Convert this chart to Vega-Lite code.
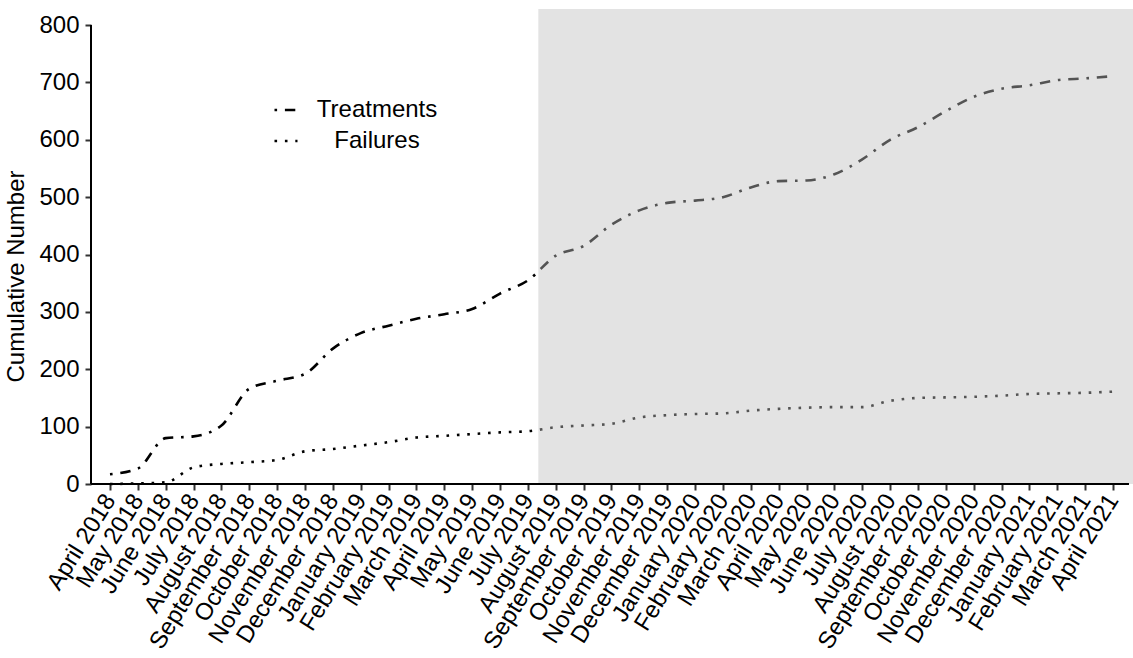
{
  "$schema": "https://vega.github.io/schema/vega-lite/v6.json",
  "width": 1042,
  "height": 475,
  "autosize": {"type": "none"},
  "padding": {"left": 91, "top": 9, "right": 0, "bottom": 174},
  "background": "white",
  "config": {
    "view": {"stroke": null},
    "font": "Liberation Sans",
    "axis": {"labelFont": "Liberation Sans", "titleFont": "Liberation Sans", "labelColor": "black", "titleColor": "black", "labelFlush": false, "labelBound": false, "labelOverlap": false, "domain": false, "grid": false, "tickSize": 6, "tickWidth": 2, "tickColor": "#333333", "labelFontSize": 24, "labelPadding": 6},
    "legend": {"labelFont": "Liberation Sans"}
  },
  "layer": [
    {
      "data": {
        "values": [
          {"idx": 0, "month": "April 2018", "Treatments": 17, "Failures": 0},
          {"idx": 1, "month": "May 2018", "Treatments": 27, "Failures": 1},
          {"idx": 2, "month": "June 2018", "Treatments": 80, "Failures": 3},
          {"idx": 3, "month": "July 2018", "Treatments": 83, "Failures": 29},
          {"idx": 4, "month": "August 2018", "Treatments": 102, "Failures": 35},
          {"idx": 5, "month": "September 2018", "Treatments": 166, "Failures": 38},
          {"idx": 6, "month": "October 2018", "Treatments": 180, "Failures": 42},
          {"idx": 7, "month": "November 2018", "Treatments": 192, "Failures": 57},
          {"idx": 8, "month": "December 2018", "Treatments": 236, "Failures": 61},
          {"idx": 9, "month": "January 2019", "Treatments": 263, "Failures": 67},
          {"idx": 10, "month": "February 2019", "Treatments": 276, "Failures": 73},
          {"idx": 11, "month": "March 2019", "Treatments": 288, "Failures": 81},
          {"idx": 12, "month": "April 2019", "Treatments": 296, "Failures": 84},
          {"idx": 13, "month": "May 2019", "Treatments": 305, "Failures": 87},
          {"idx": 14, "month": "June 2019", "Treatments": 332, "Failures": 90},
          {"idx": 15, "month": "July 2019", "Treatments": 355, "Failures": 92},
          {"idx": 16, "month": "August 2019", "Treatments": 398, "Failures": 99},
          {"idx": 17, "month": "September 2019", "Treatments": 415, "Failures": 102},
          {"idx": 18, "month": "October 2019", "Treatments": 452, "Failures": 105},
          {"idx": 19, "month": "November 2019", "Treatments": 477, "Failures": 116},
          {"idx": 20, "month": "December 2019", "Treatments": 490, "Failures": 120},
          {"idx": 21, "month": "January 2020", "Treatments": 494, "Failures": 122},
          {"idx": 22, "month": "February 2020", "Treatments": 500, "Failures": 123},
          {"idx": 23, "month": "March 2020", "Treatments": 517, "Failures": 128},
          {"idx": 24, "month": "April 2020", "Treatments": 528, "Failures": 131},
          {"idx": 25, "month": "May 2020", "Treatments": 529, "Failures": 133},
          {"idx": 26, "month": "June 2020", "Treatments": 540, "Failures": 134},
          {"idx": 27, "month": "July 2020", "Treatments": 566, "Failures": 134},
          {"idx": 28, "month": "August 2020", "Treatments": 600, "Failures": 145},
          {"idx": 29, "month": "September 2020", "Treatments": 622, "Failures": 150},
          {"idx": 30, "month": "October 2020", "Treatments": 650, "Failures": 151},
          {"idx": 31, "month": "November 2020", "Treatments": 675, "Failures": 152},
          {"idx": 32, "month": "December 2020", "Treatments": 689, "Failures": 154},
          {"idx": 33, "month": "January 2021", "Treatments": 695, "Failures": 157},
          {"idx": 34, "month": "February 2021", "Treatments": 704, "Failures": 158},
          {"idx": 35, "month": "March 2021", "Treatments": 707, "Failures": 159},
          {"idx": 36, "month": "April 2021", "Treatments": 711, "Failures": 161}
        ]
      },
      "transform": [{"fold": ["Treatments", "Failures"], "as": ["series", "value"]}],
      "mark": {"type": "line", "interpolate": "monotone", "strokeWidth": 2.6, "color": "black", "strokeCap": "butt"},
      "encoding": {
        "x": {
          "field": "idx",
          "type": "quantitative",
          "scale": {"domain": [-0.682, 36.718], "nice": false, "zero": false},
          "axis": {
            "title": null,
            "values": [0,1,2,3,4,5,6,7,8,9,10,11,12,13,14,15,16,17,18,19,20,21,22,23,24,25,26,27,28,29,30,31,32,33,34,35,36],
            "tickCount": 40,
            "labelExpr": "['April 2018','May 2018','June 2018','July 2018','August 2018','September 2018','October 2018','November 2018','December 2018','January 2019','February 2019','March 2019','April 2019','May 2019','June 2019','July 2019','August 2019','September 2019','October 2019','November 2019','December 2019','January 2020','February 2020','March 2020','April 2020','May 2020','June 2020','July 2020','August 2020','September 2020','October 2020','November 2020','December 2020','January 2021','February 2021','March 2021','April 2021'][datum.value]",
            "labelAngle": -58,
            "labelAlign": "right",
            "labelBaseline": "middle",
            "labelOverlap": false
          }
        },
        "y": {
          "field": "value",
          "type": "quantitative",
          "scale": {"domain": [0, 828], "nice": false},
          "axis": {
            "title": "Cumulative Number",
            "titleFontSize": 24,
            "titleFontWeight": "normal",
            "titlePadding": 10,
            "titleY": 267,
            "values": [0, 100, 200, 300, 400, 500, 600, 700, 800]
          }
        },
        "strokeDash": {
          "field": "series",
          "type": "nominal",
          "scale": {"domain": ["Treatments", "Failures"], "range": [[2.6, 7.8, 10.4, 7.8], [2.6, 7.8]]},
          "legend": {
            "title": null,
            "orient": "none",
            "legendX": 182,
            "legendY": 88,
            "padding": 0,
            "symbolType": "stroke",
            "symbolSize": 529,
            "symbolStrokeWidth": 2.6,
            "symbolStrokeColor": "black",
            "labelFontSize": 24,
            "labelColor": "black",
            "labelAlign": "center",
            "labelOffset": 78,
            "rowPadding": 6
          }
        }
      }
    },
    {
      "data": {"values": [{}]},
      "mark": {"type": "rect", "color": "#c0c0c0", "opacity": 0.44},
      "encoding": {
        "x": {"datum": 15.373, "type": "quantitative"},
        "x2": {"datum": 36.718},
        "y": {"datum": 0, "type": "quantitative"},
        "y2": {"datum": 828}
      }
    },
    {
      "data": {"values": [{}]},
      "mark": {"type": "rule", "color": "black", "strokeWidth": 2},
      "encoding": {
        "x": {"datum": -0.682, "type": "quantitative"},
        "x2": {"datum": 36.574},
        "y": {"datum": 0, "type": "quantitative"}
      }
    },
    {
      "data": {"values": [{}]},
      "mark": {"type": "rule", "color": "black", "strokeWidth": 2},
      "encoding": {
        "x": {"datum": -0.682, "type": "quantitative"},
        "y": {"datum": 0, "type": "quantitative"},
        "y2": {"datum": 800}
      }
    }
  ]
}
